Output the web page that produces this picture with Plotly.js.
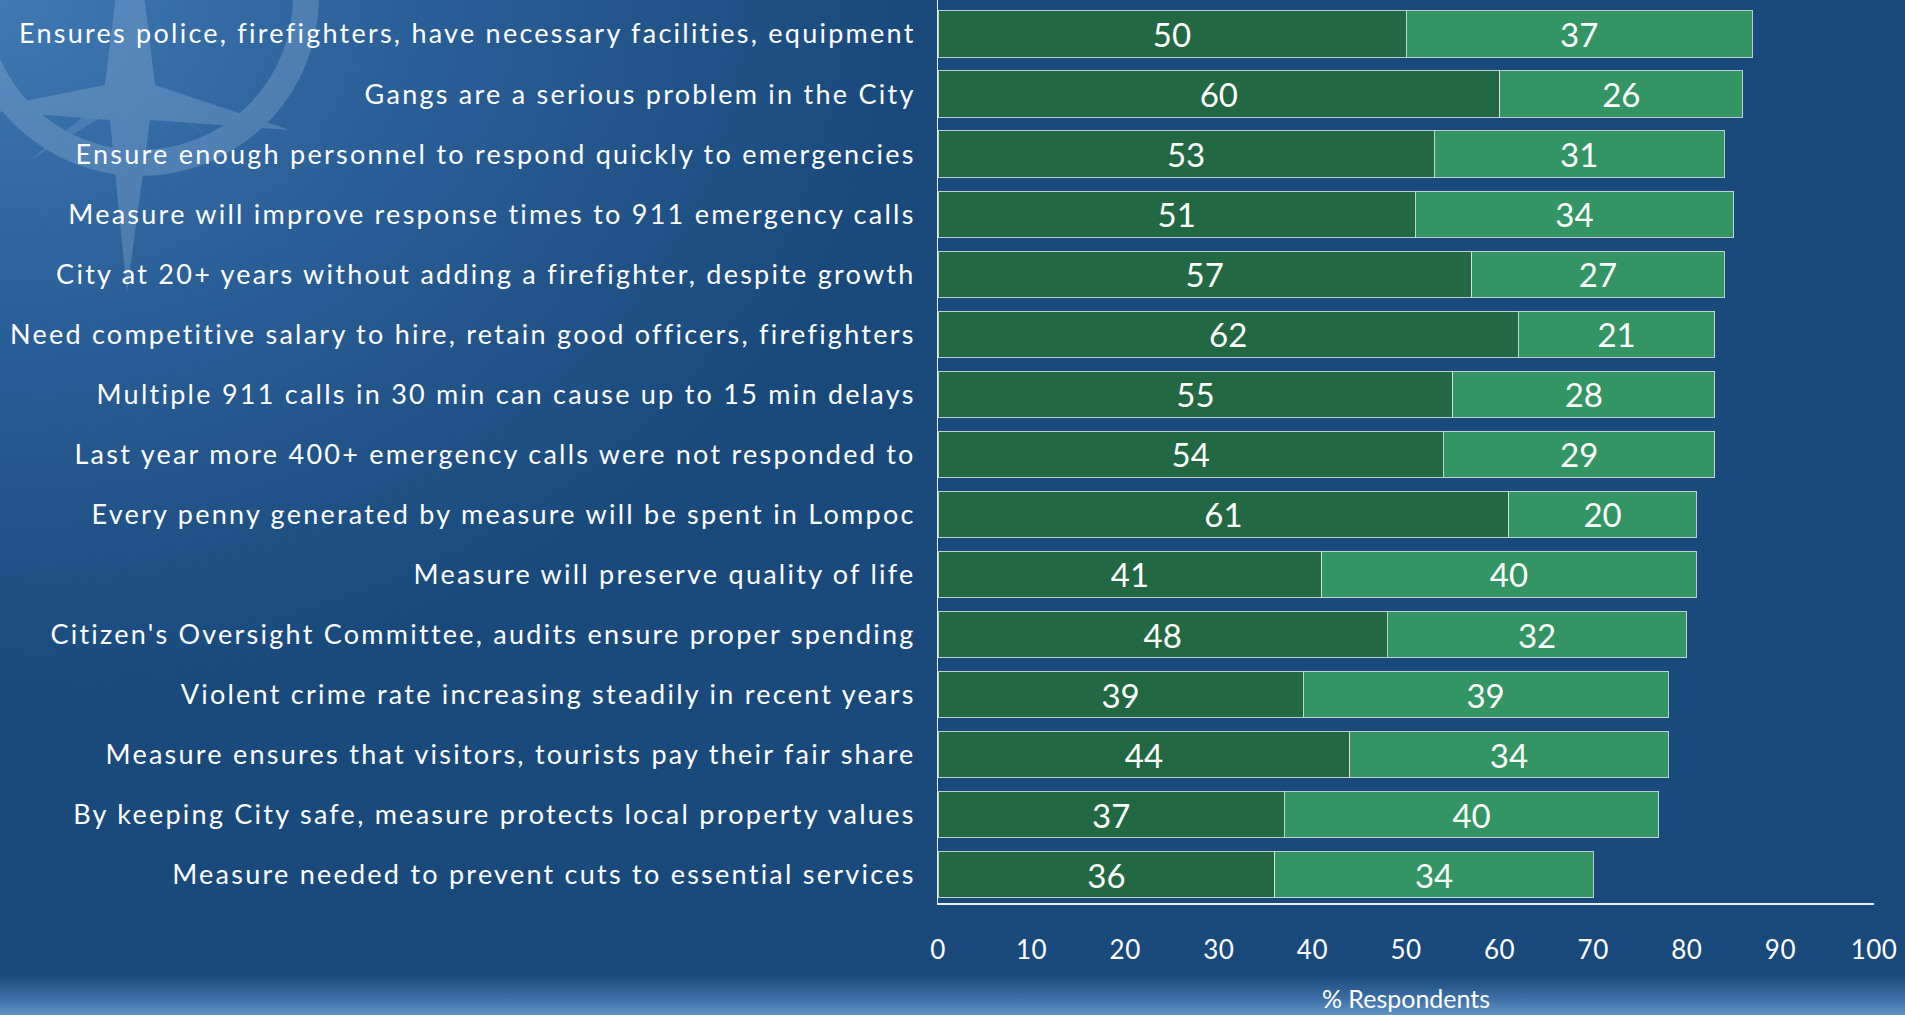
<!DOCTYPE html>
<html>
<head>
<meta charset="utf-8">
<script src="https://cdn.plot.ly/plotly-3.0.1.min.js"></script>
<style>
  html, body { margin: 0; padding: 0; width: 1905px; height: 1015px; overflow: hidden; }
  body {
    background:
      linear-gradient(to bottom, rgba(26,74,124,0) 0px, rgba(26,74,124,0) 975px, rgba(60,110,165,1) 998px, rgba(96,148,196,1) 1015px),
      radial-gradient(ellipse 900px 700px at 0px 0px, #3f79b4 0%, #2b5f98 45%, #1a4a7c 100%);
    background-color: #1a4a7c;
  }
  #logo { position: absolute; left: 0; top: 0; width: 420px; height: 360px; opacity: 0.26; }
  #chart { position: absolute; left: 0; top: 0; width: 1905px; height: 1015px; }
  #chart .ytick text { letter-spacing: 2.25px; }
  #chart .xtick text { letter-spacing: 0.5px; }
</style>
</head>
<body>
<svg id="logo" viewBox="0 0 420 360">
  <circle cx="140" cy="-3" r="166" fill="none" stroke="#a9c8ea" stroke-width="26"/>
  <polygon fill="#a9c8ea" points="127,293 110,120 -20,110 105,85 130,-120 155,85 290,130 150,120"/>
  <polygon fill="#a9c8ea" opacity="0.7" points="130,100 30,160 110,95 125,80 230,150 145,95"/>
</svg>
<div id="chart"></div>
<script>
const categories = [
  "Ensures police, firefighters, have necessary facilities, equipment",
  "Gangs are a serious problem in the City",
  "Ensure enough personnel to respond quickly to emergencies",
  "Measure will improve response times to 911 emergency calls",
  "City at 20+ years without adding a firefighter, despite growth",
  "Need competitive salary to hire, retain good officers, firefighters",
  "Multiple 911 calls in 30 min can cause up to 15 min delays",
  "Last year more 400+ emergency calls were not responded to",
  "Every penny generated by measure will be spent in Lompoc",
  "Measure will preserve quality of life",
  "Citizen's Oversight Committee, audits ensure proper spending",
  "Violent crime rate increasing steadily in recent years",
  "Measure ensures that visitors, tourists pay their fair share",
  "By keeping City safe, measure protects local property values",
  "Measure needed to prevent cuts to essential services"
];
const darkValues  = [50, 60, 53, 51, 57, 62, 55, 54, 61, 41, 48, 39, 44, 37, 36];
const lightValues = [37, 26, 31, 34, 27, 21, 28, 29, 20, 40, 32, 39, 34, 40, 34];
const xTicks = [0, 10, 20, 30, 40, 50, 60, 70, 80, 90, 100];
const xTitle = "% Respondents";

const barLine = { color: "rgba(215,225,230,0.85)", width: 1 };
const textFont = { family: "Lato, sans-serif", size: 33, color: "#ffffff" };

const traces = [
  {
    type: "bar", orientation: "h", y: categories, x: darkValues,
    text: darkValues.map(String), textposition: "inside", insidetextanchor: "middle",
    textangle: 0, insidetextfont: textFont, constraintext: "none",
    marker: { color: "#226842", line: barLine }, hoverinfo: "x+y"
  },
  {
    type: "bar", orientation: "h", y: categories, x: lightValues,
    text: lightValues.map(String), textposition: "inside", insidetextanchor: "middle",
    textangle: 0, insidetextfont: textFont, constraintext: "none",
    marker: { color: "#329563", line: barLine }, hoverinfo: "x+y"
  }
];

const layout = {
  width: 1905, height: 1015,
  barmode: "stack", bargap: 0.23,
  showlegend: false,
  paper_bgcolor: "rgba(0,0,0,0)", plot_bgcolor: "rgba(0,0,0,0)",
  margin: { l: 938, r: 31, t: 0, b: 112, pad: 0 },
  font: { family: "Lato, sans-serif", color: "#ffffff" },
  xaxis: {
    range: [0, 100], tickvals: xTicks, ticktext: xTicks.map(String),
    showgrid: false, zeroline: false, ticks: "",
    showline: true, linecolor: "#e8eef4", linewidth: 1.5,
    tickfont: { family: "Lato, sans-serif", size: 26, color: "#ffffff" },
    ticklabelstandoff: 23,
    title: { text: xTitle, font: { family: "Lato, sans-serif", size: 25, color: "#ffffff" }, standoff: 27 }
  },
  yaxis: {
    type: "category", categoryorder: "array", categoryarray: categories,
    range: [14.47, -0.566],
    showgrid: false, zeroline: false, ticks: "",
    showline: true, linecolor: "#e8eef4", linewidth: 1,
    tickfont: { family: "Lato, sans-serif", size: 27, color: "#ffffff" },
    ticklabelstandoff: 16
  }
};

Plotly.newPlot("chart", traces, layout, { displayModeBar: false, staticPlot: true });
</script>
</body>
</html>
